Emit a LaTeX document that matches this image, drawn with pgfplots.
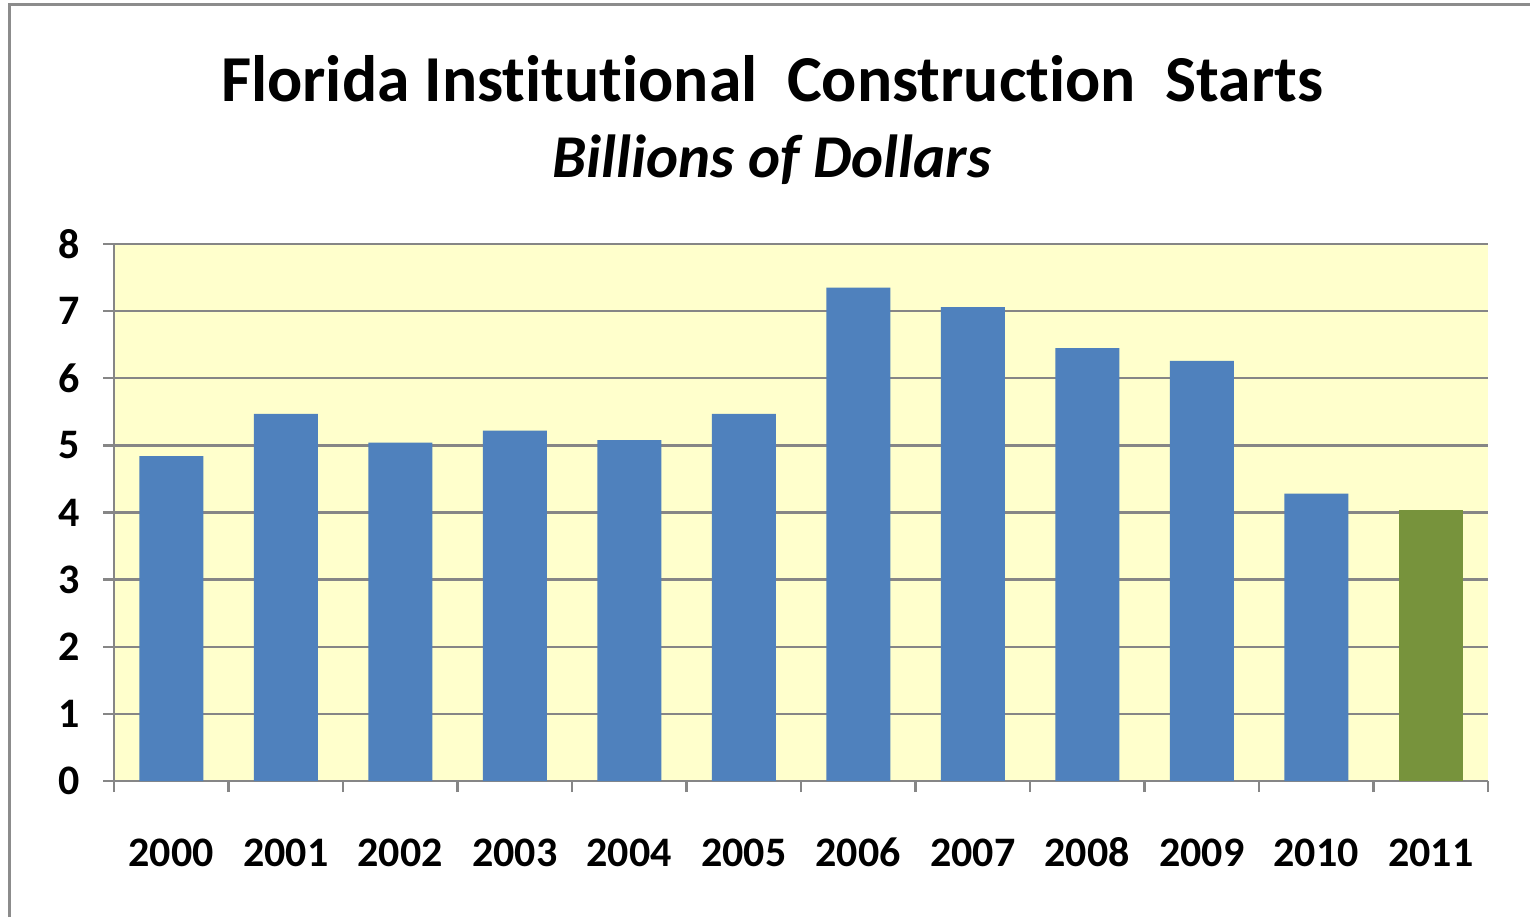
\documentclass[border=0pt]{standalone}
\usepackage{pgfplots}
\pgfplotsset{compat=1.18}
\usepackage{fontspec}
\setmainfont[Ligatures=NoCommon]{Carlito}
\definecolor{barblue}{HTML}{4F81BD}
\definecolor{bargreen}{HTML}{77933C}
\definecolor{bgyellow}{HTML}{FFFFCC}
\definecolor{gridgray}{HTML}{868686}
\definecolor{framegray}{HTML}{8C8C8C}
\begin{document}
\begin{tikzpicture}
\useasboundingbox (0,0) rectangle (765pt,458.5pt);
\draw[framegray, line width=1.5pt] (4.5pt,0) -- (4.5pt,456pt) -- (765pt,456pt);
\node[anchor=base, font=\bfseries\fontsize{32.8}{32.8}\selectfont] at (386pt,407.5pt) {Florida Institutional\ \ Construction\ \ Starts};
\node[anchor=base, font=\bfseries\itshape\fontsize{30.4}{30.4}\selectfont] at (386pt,369.5pt) {Billions of Dollars};
\begin{axis}[
  at={(57pt,68pt)}, anchor=south west,
  scale only axis, width=687pt, height=268.5pt,
  xmin=-0.5, xmax=11.5, ymin=0, ymax=8,
  axis background/.style={fill=bgyellow},
  axis x line*=bottom, axis y line*=left,
  axis line style={gridgray, line width=1.2pt, -},
  ytick={0,1,...,8},
  ymajorgrids, major grid style={gridgray, line width=1.2pt},
  tick style={gridgray, line width=1.2pt},
  tick align=outside,
  major tick length=5.5pt,
  xtick={-0.5,0.5,...,11.5},
  xticklabels={},
  extra x ticks={0,1,...,11},
  extra x tick labels={2000,2001,2002,2003,2004,2005,2006,2007,2008,2009,2010,2011},
  extra x tick style={major tick length=0pt, grid=none, tick style={draw=none}},
  /pgf/number format/assume math mode=true,
  ticklabel style={font=\bfseries\fontsize{21}{21}\selectfont, text=black},
  yticklabel style={anchor=east, xshift=-8pt},
  xticklabel style={anchor=base, yshift=-42.5pt},
  bar width=32pt,
  bar shift=0pt,
]
\addplot[ybar, fill=barblue, draw=none] coordinates {
 (0,4.84) (1,5.47) (2,5.04) (3,5.22) (4,5.08) (5,5.47)
 (6,7.35) (7,7.06) (8,6.45) (9,6.26) (10,4.28)
};
\addplot[ybar, fill=bargreen, draw=none] coordinates {
 (11,4.04)
};
\end{axis}
\end{tikzpicture}
\end{document}
